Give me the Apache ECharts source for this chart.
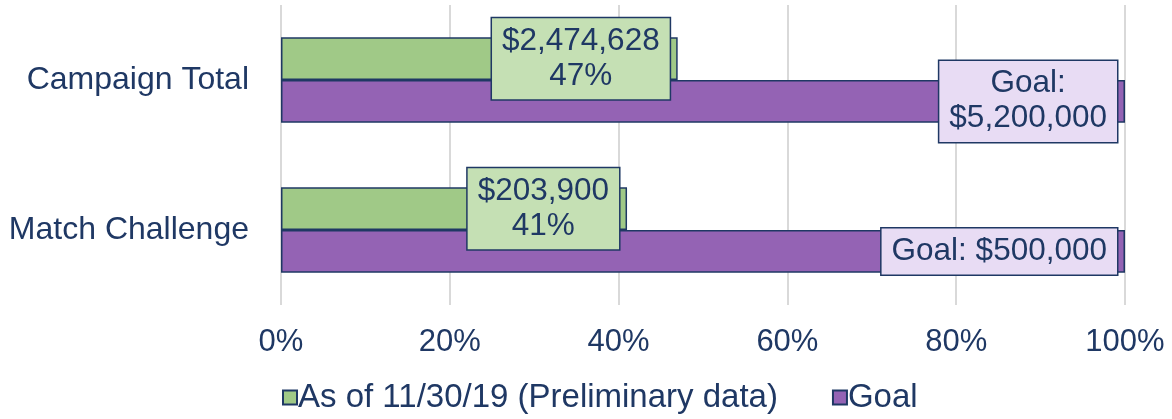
<!DOCTYPE html>
<html>
<head>
<meta charset="utf-8">
<script src="https://cdn.jsdelivr.net/npm/echarts@6/dist/echarts.min.js"></script>
<style>
html,body{margin:0;padding:0;background:#fff;}
#chart{width:1172px;height:419px;}
</style>
</head>
<body>
<div id="chart"></div>
<script>
const categories = ['Campaign Total', 'Match Challenge'];
const seriesNames = ['As of 11/30/19 (Preliminary data)', 'Goal'];
const raisedPct = [47, 41];
const goalPct = [100, 100];
const raisedAmount = ['$2,474,628', '$203,900'];
const goalLabels = [['Goal:', '$5,200,000'], ['Goal: $500,000']];
const xTicks = [0, 20, 40, 60, 80, 100];

const navy = '#1F3864';
const font = 'Liberation Sans, Arial, sans-serif';
const labelSize = 31.5;

const chart = echarts.init(document.getElementById('chart'), null, {renderer: 'canvas'});
chart.setOption({
  animation: false,
  textStyle: {fontFamily: font},
  grid: {left: 281, right: 47, top: 5, bottom: 114},
  legend: {
    data: seriesNames,
    left: 282,
    top: 381,
    padding: 0,
    itemWidth: 14,
    itemHeight: 14,
    itemGap: 54,
    icon: 'rect',
    textStyle: {color: navy, fontSize: 33, fontFamily: font, padding: [0, 0, 0, -4]}
  },
  xAxis: {
    type: 'value',
    min: xTicks[0],
    max: xTicks[xTicks.length - 1],
    interval: 20,
    axisLine: {show: false},
    axisTick: {show: false},
    splitLine: {show: true, lineStyle: {color: '#D9D9D9', width: 2}},
    axisLabel: {
      color: navy, fontSize: 31, fontFamily: font, margin: 22,
      formatter: v => v + '%'
    }
  },
  yAxis: {
    type: 'category',
    data: categories,
    inverse: true,
    axisLine: {show: false},
    axisTick: {show: false},
    splitLine: {show: false},
    axisLabel: {color: navy, fontSize: 32, fontFamily: font, margin: 32}
  },
  series: [
    {
      name: seriesNames[0],
      type: 'bar',
      data: raisedPct,
      barGap: '0%',
      barCategoryGap: '43%',
      itemStyle: {color: '#A0C987', borderColor: navy, borderWidth: 1.5},
      label: {
        show: true,
        position: 'insideRight',
        distance: 8,
        color: navy,
        fontSize: labelSize,
        fontFamily: font,
        lineHeight: 35,
        backgroundColor: '#C5E0B4',
        borderColor: navy,
        borderWidth: 1.5,
        padding: [6, 10, 5, 10],
        rich: {c: {align: 'center', fontSize: labelSize, lineHeight: 35, color: navy, fontFamily: font}},
        formatter: p => '{c|' + raisedAmount[p.dataIndex] + '}\n{c|' + raisedPct[p.dataIndex] + '%}'
      },
      z: 3
    },
    {
      name: seriesNames[1],
      type: 'bar',
      data: goalPct,
      itemStyle: {color: '#9463B4', borderColor: navy, borderWidth: 1.5},
      label: {
        show: true,
        position: 'insideRight',
        distance: 8,
        color: navy,
        fontSize: labelSize,
        fontFamily: font,
        lineHeight: 35,
        backgroundColor: '#E8DCF4',
        borderColor: navy,
        borderWidth: 1.5,
        padding: [5, 10, 6, 10],
        rich: {c: {align: 'center', fontSize: labelSize, lineHeight: 35, color: navy, fontFamily: font}},
        formatter: p => goalLabels[p.dataIndex].map(s => '{c|' + s + '}').join('\n')
      },
      z: 2
    }
  ]
});
</script>
</body>
</html>
